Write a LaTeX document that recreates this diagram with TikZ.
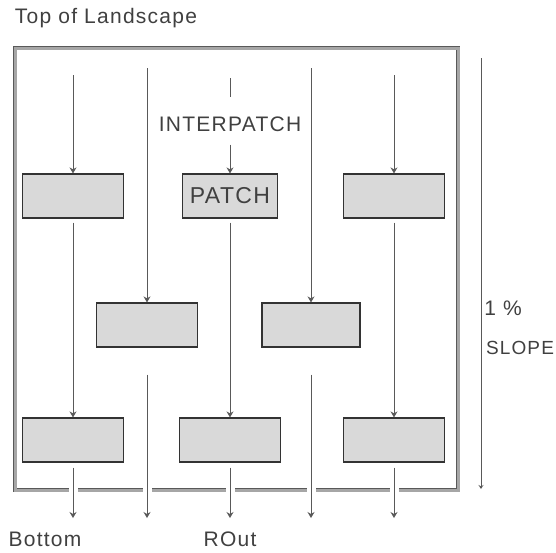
\documentclass[tikz,border=0pt]{standalone}
\usepackage{fontspec}
\setmainfont[LetterSpace=6]{Liberation Sans}
\usetikzlibrary{arrows.meta}
\begin{document}
\begin{tikzpicture}[x=1pt,y=-1pt,
patchbox/.style={draw=black!80,line width=1.2pt,fill=gray!30,minimum width=101pt,minimum height=44pt,inner sep=0pt},
flow/.style={draw=black!65,line width=0.9pt,-{Stealth[length=6pt,width=7pt]},preaction={draw=white,line width=9pt,arrows=-}},
lbl/.style={text=black!75,font=\fontsize{21}{25}\selectfont,inner sep=0pt}]
\useasboundingbox(0,0)rectangle(556,552);
\draw[draw=black!65,double=gray!70,double distance=3pt,line width=0.9pt](15,48)rectangle(458,490);
\node[lbl](top)at(106,18){Top of Landscape};
\node[patchbox](pa)at(73,196){};
\node[patchbox,minimum width=95pt,font=\fontsize{23}{26}\selectfont,text=black!75](pb)at(230,196){PATCH};
\node[patchbox](pc)at(394,196){};
\node[patchbox](pd)at(147,325){};
\node[patchbox,minimum width=98pt](pe)at(311,325){};
\node[patchbox](pf)at(73,440){};
\node[patchbox](pg)at(230,440){};
\node[patchbox](ph)at(394,440){};
\node[lbl](ip)at(230,124){INTERPATCH};
\coordinate(k)at(230,78);
\draw[draw=black!65,line width=0.9pt,shorten >=19pt](k)--(ip.north);
\draw[flow,shorten <=13pt](ip)--(pb);
\foreach \n/\x/\y in{a/73/75,d/147/68,e/311/68,c/394/75}
{\coordinate(t\n)at(\x,\y);\draw[flow](t\n)--(p\n);}
\foreach \n/\x in{f/73,d/147,g/230,e/311,h/394}\coordinate(o\n)at(\x,518);
\foreach \a/\b in{a/f,b/g,c/h}\draw[flow,shorten <=4pt](p\a)--(p\b);
\foreach \n in{f,g,h}\draw[flow,shorten <=5pt](p\n)--(o\n);
\foreach \n in{d,e}\draw[flow,shorten <=27pt](p\n)--(o\n);
\coordinate(s1)at(481,58);\coordinate(s2)at(481,489);
\draw[draw=black!65,line width=0.7pt,-{Stealth[length=4pt,width=5pt,open]}](s1)--(s2);
\node[lbl](pct)at(503,308){1 \%};
\node[lbl,font=\fontsize{19}{23}\selectfont](slp)at(520,348){SLOPE};
\node[lbl](bot)at(45,539){Bottom};
\node[lbl](rout)at(230,539){ROut};
\end{tikzpicture}
\end{document}
